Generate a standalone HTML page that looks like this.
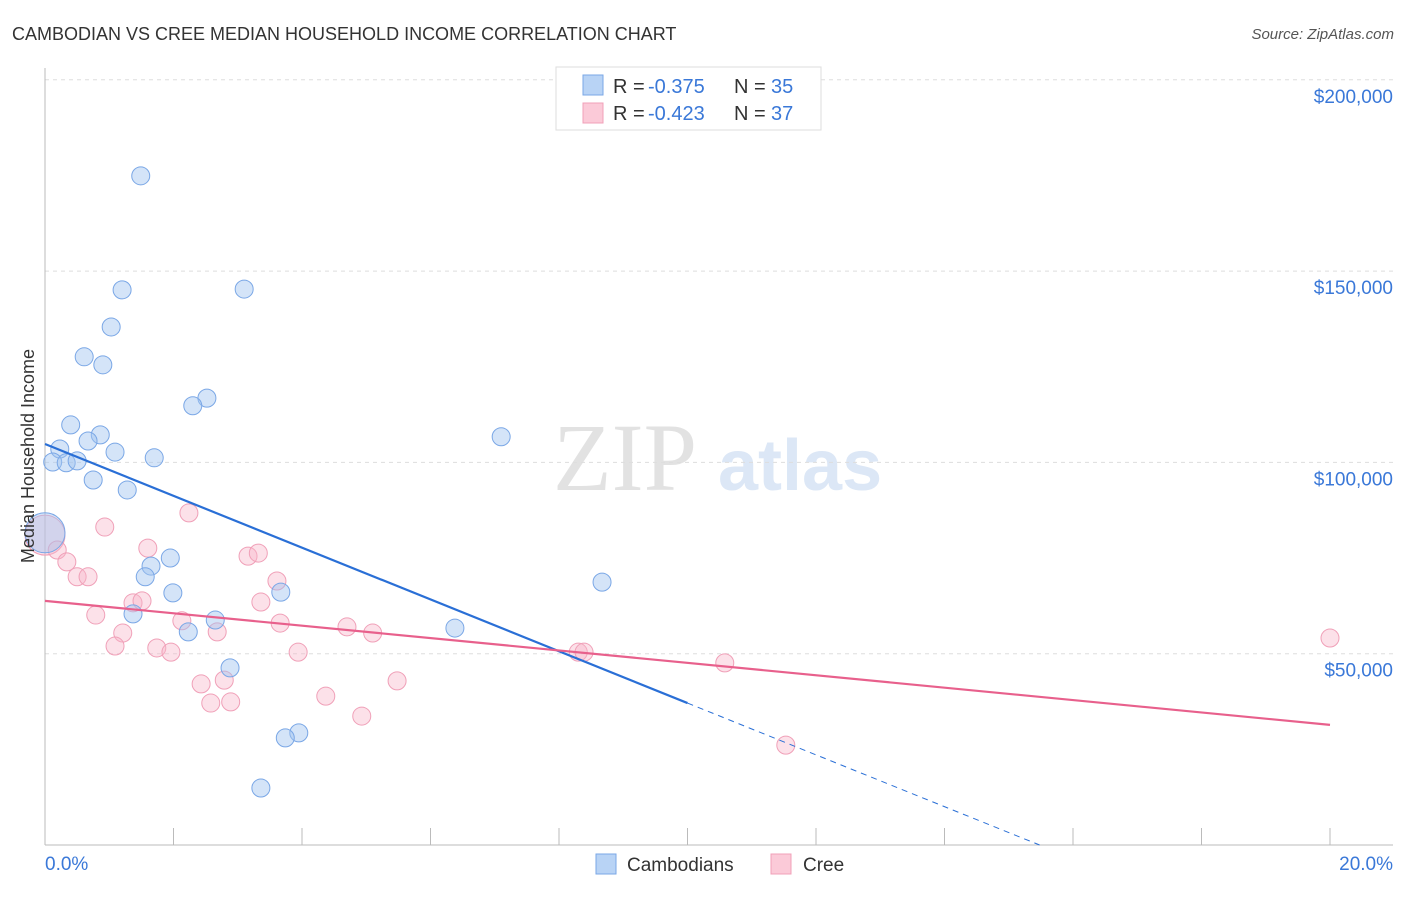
<!DOCTYPE html>
<html><head><meta charset="utf-8"><style>
body{margin:0;background:#fff;font-family:"Liberation Sans",sans-serif;}
svg text{font-family:"Liberation Sans",sans-serif;}
</style></head><body>
<svg id="chart" width="1406" height="892">
<text x="12" y="40" font-size="18" fill="#333">CAMBODIAN VS CREE MEDIAN HOUSEHOLD INCOME CORRELATION CHART</text>
<text x="1394" y="39" font-size="15" fill="#555" text-anchor="end" font-style="italic">Source: ZipAtlas.com</text>
<g><text x="553" y="490" font-size="96" fill="#e2e2e2" style="font-family:'Liberation Serif',serif">ZIP</text><text x="718" y="490" font-size="72" fill="#dce7f6" font-weight="bold">atlas</text></g>
<g id="grid"></g><g id="axes"></g><g id="marks"></g>
<text transform="translate(34,456) rotate(-90)" font-size="18" fill="#333" text-anchor="middle">Median Household Income</text>
<g>
<rect x="556" y="67" width="265" height="63" fill="#fff" stroke="#ddd"/>
<rect x="583" y="75" width="20" height="20" fill="#b8d3f5" stroke="#7aa7e6"/>
<text x="613" y="93" font-size="20" fill="#333">R = </text><text x="648" y="93" font-size="20" fill="#3a78d8">-0.375</text>
<text x="734" y="93" font-size="20" fill="#333">N = </text><text x="771" y="93" font-size="20" fill="#3a78d8">35</text>
<rect x="583" y="103" width="20" height="20" fill="#fbcad8" stroke="#f0a0b8"/>
<text x="613" y="120" font-size="20" fill="#333">R = </text><text x="648" y="120" font-size="20" fill="#3a78d8">-0.423</text>
<text x="734" y="120" font-size="20" fill="#333">N = </text><text x="771" y="120" font-size="20" fill="#3a78d8">37</text>
</g>
<g>
<rect x="596" y="854" width="20" height="20" fill="#b8d3f5" stroke="#7aa7e6"/><text x="627" y="871" font-size="19" fill="#333">Cambodians</text>
<rect x="771" y="854" width="20" height="20" fill="#fbcad8" stroke="#f0a0b8"/><text x="803" y="871" font-size="19" fill="#333">Cree</text>
</g>
</svg>
<script>
const blueX=[1.49,1.20,3.10,1.03,0.61,0.90,2.52,2.30,0.40,0.86,0.67,7.10,0.23,1.09,1.70,0.12,0.33,0.50,0.75,1.28,0,1.95,1.65,1.56,8.67,1.99,3.67,1.37,2.65,2.23,6.38,2.88,3.95,3.74,3.36];
const blueY=[174.9,145.1,145.3,135.4,127.6,125.5,116.8,114.8,109.8,107.2,105.6,106.7,103.5,102.7,101.2,100.1,99.9,100.4,95.4,92.8,81.6,75.0,72.9,70.1,68.7,65.9,66.1,60.4,58.8,55.7,56.7,46.3,29.3,28.0,14.9];
const pinkX=[0,0.19,0.34,0.50,0.67,0.93,0.79,1.21,1.09,1.37,1.51,1.60,1.74,1.96,2.13,2.24,2.43,2.58,2.68,2.79,2.89,3.16,3.32,3.36,3.61,3.66,3.94,4.37,4.70,4.93,5.10,5.48,8.30,8.39,10.58,11.53,20.0];
const pinkY=[81.0,77.1,74.0,70.1,70.1,83.1,60.1,55.4,52.0,63.3,63.8,77.6,51.5,50.4,58.6,86.8,42.1,37.1,55.7,43.1,37.4,75.5,76.3,63.5,69.0,58.0,50.4,38.9,57.0,33.7,55.4,42.9,50.4,50.4,47.6,26.1,54.1];
const yTicks=[50,100,150,200];
const yTickLabels=["$50,000","$100,000","$150,000","$200,000"];
const blueTrend=[104.8,37.1]; // at x=0 and x=10
const pinkTrend=[63.8,31.4]; // at x=0 and x=20
const xs=v=>45+v*64.25, ys=v=>845-v*3.826;
const NS="http://www.w3.org/2000/svg";
function mk(p,t,a){const e=document.createElementNS(NS,t);for(const k in a)e.setAttribute(k,a[k]);p.appendChild(e);return e;}
const grid=document.getElementById('grid'),axes=document.getElementById('axes'),marks=document.getElementById('marks');
yTicks.forEach((t,i)=>{
 const l=mk(grid,'line',{x1:45,x2:1393,y1:ys(t),y2:ys(t),stroke:'#ddd','stroke-dasharray':'4,4'});
 
 
 const tx=mk(axes,'text',{x:1393,y:ys(t)+23,'font-size':19,fill:'#3a78d8','text-anchor':'end'});tx.textContent=yTickLabels[i];
 
 
});
mk(axes,'line',{x1:45,x2:45,y1:68,y2:845,stroke:'#bbb'});
mk(axes,'line',{x1:45,x2:1393,y1:845,y2:845,stroke:'#bbb'});
for(let i=0;i<=10;i++){mk(axes,'line',{x1:xs(i*2),x2:xs(i*2),y1:828,y2:845,stroke:'#bbb'});}
const x0=mk(axes,'text',{x:45,y:870,'font-size':19,fill:'#3a78d8'});x0.textContent='0.0%';


const x1=mk(axes,'text',{x:1393,y:870,'font-size':19,fill:'#3a78d8','text-anchor':'end'});x1.textContent='20.0%';


function dots(X,Y,fill,stroke,name){X.forEach((x,i)=>{const c=mk(marks,'circle',{cx:xs(x),cy:ys(Y[i]),r:(x===0?20:9),fill:fill,stroke:stroke,'stroke-width':1});
 
 });}
dots(pinkX,pinkY,'rgba(248,180,200,0.4)','#f0a0b8','cree-point');
dots(blueX,blueY,'rgba(160,196,240,0.45)','#7aa7e6','cambodian-point');
const bs=(blueTrend[1]-blueTrend[0])/10;
const b1=mk(marks,'line',{x1:xs(0),y1:ys(blueTrend[0]),x2:xs(10),y2:ys(blueTrend[1]),stroke:'#2a6fd6','stroke-width':2.2});


const xe=-blueTrend[0]/bs;
const b2=mk(marks,'line',{x1:xs(10),y1:ys(blueTrend[1]),x2:xs(xe),y2:ys(0),stroke:'#2a6fd6','stroke-width':1,'stroke-dasharray':'6,5'});


const p1=mk(marks,'line',{x1:xs(0),y1:ys(pinkTrend[0]),x2:xs(20),y2:ys(pinkTrend[1]),stroke:'#e8608c','stroke-width':2.2});


</script>
</body></html>
